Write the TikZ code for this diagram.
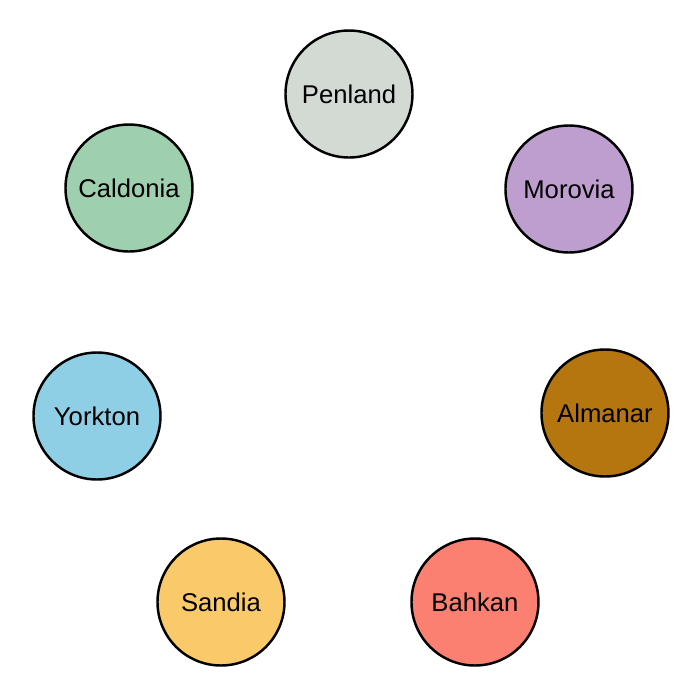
\documentclass[tikz,border=0pt]{standalone}
\usepackage{fontspec}
\setmainfont{Liberation Sans}
\definecolor{cPenland}{HTML}{D3DAD3}
\definecolor{cMorovia}{HTML}{BE9ECE}
\definecolor{cAlmanar}{HTML}{B5750F}
\definecolor{cBahkan}{HTML}{FB8072}
\definecolor{cSandia}{HTML}{F9C96A}
\definecolor{cYorkton}{HTML}{8ECFE6}
\definecolor{cCaldonia}{HTML}{9ECFAE}
\tikzset{town/.style={shape=circle, draw=black, line width=0.7pt, minimum size=1.27cm, inner sep=0pt, font=\fontsize{7.3}{9}\selectfont}}
\begin{document}
\begin{tikzpicture}
            \useasboundingbox (0,0) rectangle (7,7);

                \node[town, fill=cPenland] (P) at (3.49,6.06) {Penland};
                \node[town, fill=cMorovia] (M) at (5.69,5.11) {Morovia};
                \node[town, fill=cAlmanar] (A) at (6.05,2.87) {Almanar};
                \node[town, fill=cBahkan] (B) at (4.75,0.98) {Bahkan};
                \node[town, fill=cSandia] (S) at (2.21,0.98) {Sandia};
                \node[town, fill=cYorkton] (Y) at (0.97,2.84) {Yorkton};
                \node[town, fill=cCaldonia] (C) at (1.29,5.12) {Caldonia};

            \end{tikzpicture}
\end{document}
